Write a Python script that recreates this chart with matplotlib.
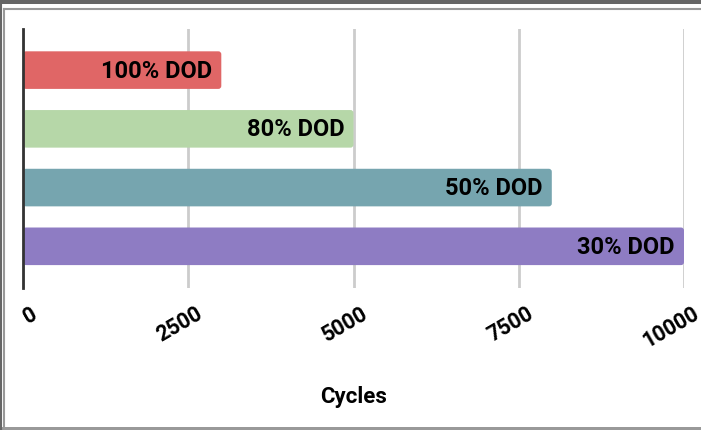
import matplotlib.pyplot as plt
from matplotlib.patches import FancyBboxPatch, Rectangle
from matplotlib.lines import Line2D
import matplotlib.transforms as mtransforms

etiquetas = ["100% DOD", "80% DOD", "50% DOD", "30% DOD"]
ciclos = [3000, 5000, 8000, 10000]
colores = ["#e06666", "#b6d7a8", "#76a5af", "#8e7cc3"]
marcas = [0, 2500, 5000, 7500, 10000]
marcas_txt = ["0", "2500", "5000", "7500", "10000"]

plt.rcParams["font.family"] = ["Roboto", "DejaVu Sans"]

fig = plt.figure(figsize=(7.01, 4.31), dpi=100)
W, H = 701, 431
ax = fig.add_axes([23 / W, 1 - 289 / H, (684 - 23) / W, (289 - 30) / H])

pos = list(range(len(ciclos)))
barras = ax.barh(pos, ciclos, height=0.64, color=colores)
ax.set_ylim(3.71, -0.70)
ax.set_xlim(0, 10000)

# esquinas redondeadas
asp = (1 / 58.7) / (10000 / 661)
for b in barras:
    bx, by = b.get_x(), b.get_y()
    bw, bh = b.get_width(), b.get_height()
    b.set_visible(False)
    p = FancyBboxPatch((bx, by), bw, bh,
                       boxstyle="round,pad=0,rounding_size=45",
                       mutation_aspect=asp,
                       facecolor=b.get_facecolor(), edgecolor="none",
                       zorder=2)
    ax.add_patch(p)

for i in range(len(ciclos)):
    ax.text(ciclos[i] - 140, pos[i], etiquetas[i], ha="right", va="center",
            fontsize=17, fontweight="bold", color="black", zorder=3)

ax.tick_params(axis="x", length=0, pad=17)
ax.set_xticks(marcas)
ax.set_xticklabels(marcas_txt, rotation=30, ha="right", va="center",
                   rotation_mode="anchor", fontsize=15.5, fontweight="bold")
off = mtransforms.ScaledTranslation(13 / 100, 0, fig.dpi_scale_trans)
for lbl in ax.get_xticklabels():
    lbl.set_transform(lbl.get_transform() + off)
ax.set_yticks([])
ax.grid(axis="x", color="#cccccc", linewidth=2)
ax.set_axisbelow(True)
for s in ["top", "right", "bottom"]:
    ax.spines[s].set_visible(False)
ax.spines["left"].set_color("#333333")
ax.spines["left"].set_linewidth(2)
ax.spines["left"].set_zorder(4)

fig.text(354 / W, 1 - 397 / H, "Cycles", ha="center", va="center",
         fontsize=16, fontweight="bold")

# marco
fig.patches.append(Rectangle((0, 1 - 5 / H), 1, 5 / H, transform=fig.transFigure,
                             facecolor="#666666", edgecolor="none"))
fig.patches.append(Rectangle((0, 0), 1, 3 / H, transform=fig.transFigure,
                             facecolor="#999999", edgecolor="none"))
fig.lines.append(Line2D([3.5 / W, 1], [1 - 9.5 / H, 1 - 9.5 / H],
                        transform=fig.transFigure, color="#999999", lw=1.5))
fig.lines.append(Line2D([3.5 / W, 3.5 / W], [0, 1 - 9.5 / H],
                        transform=fig.transFigure, color="#999999", lw=1.5))
fig.lines.append(Line2D([0.7 / W, 0.7 / W], [0, 1],
                        transform=fig.transFigure, color="#666666", lw=1.5))

plt.savefig("out.png", dpi=100)
